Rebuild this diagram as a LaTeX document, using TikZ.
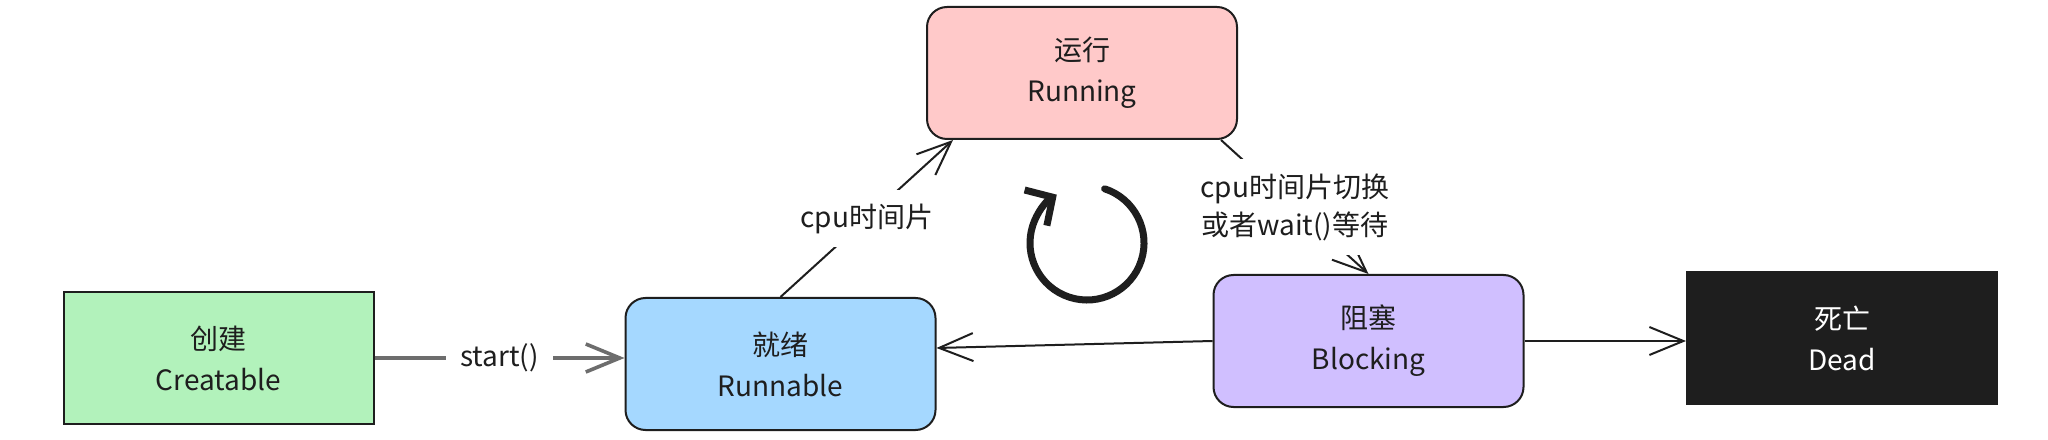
\documentclass[tikz,border=0pt]{standalone}
\usepackage{fontspec}
\setmainfont{Noto Sans CJK SC}
\usetikzlibrary{arrows.meta}
\definecolor{ink}{HTML}{1E1E1E}
\definecolor{createfill}{HTML}{B2F2BB}
\definecolor{readyfill}{HTML}{A5D8FF}
\definecolor{runfill}{HTML}{FFC9C9}
\definecolor{blockfill}{HTML}{D0BFFF}
\tikzstyle{state}=[draw=ink,line width=1pt,minimum width=155pt,minimum height=66pt,align=center,font=\fontsize{14}{20.5}\selectfont]
\tikzstyle{edge} = [draw=ink,line width=1pt,-{Straight Barb[length=17pt,width=14pt]}]
\tikzstyle{startedge} = [draw=ink!65,line width=1.8pt,-{Straight Barb[length=17pt,width=14pt]}]
\tikzstyle{weight} = [fill=white,inner sep=7pt,align=center,text=ink,font=\fontsize{14}{19}\selectfont]
\tikzstyle{loopline} = [draw=ink,line width=3.5pt,line cap=round,line join=round,-{Straight Barb[length=10pt,width=21pt]}]

\begin{document}
\begin{tikzpicture}[x=0.5pt,y=0.5pt]
    \useasboundingbox[fill=white] (0,0) rectangle (2048,439);

    \foreach \pos/ \name/\fillc/\rc/\tc/\txt in {{(218.5,81)/creatable/createfill/0pt/ink/{创建\\Creatable}},
        {(780.5,75)/runnable/readyfill/10pt/ink/{就绪\\Runnable}},
        {(1082,366)/running/runfill/10pt/ink/{运行\\Running}},
        {(1368.5,98)/blocking/blockfill/10pt/ink/{阻塞\\Blocking}},
        {(1842,101)/dead/ink/0pt/white/{死亡\\Dead}}}
        \node[state,fill=\fillc,rounded corners=\rc,text=\tc] (\name) at \pos {\txt};

    % transitions between the states
    \path[startedge] (creatable.east) -- node[weight] {start()} (creatable.east -| runnable.west);
    \path[edge] (runnable.north) -- node[weight] {cpu时间片} ([xshift=13.5pt]running.south west);
    \path[edge] ([xshift=-8.5pt]running.south east) -- node[weight] {cpu时间片切换\\或者wait()等待} (blocking.north);
    \path[edge] (blocking.west) -- ([yshift=8pt]runnable.east);
    \path[edge] (blocking.east) -- (blocking.east -| dead.west);

    % the round arrow between the states
    \coordinate (loop) at (1087,196);
    \draw[loopline] ([shift={(72:28.5pt)}]loop) arc[start angle=72, end angle=-238, radius=28.5pt];

\end{tikzpicture}
\end{document}
